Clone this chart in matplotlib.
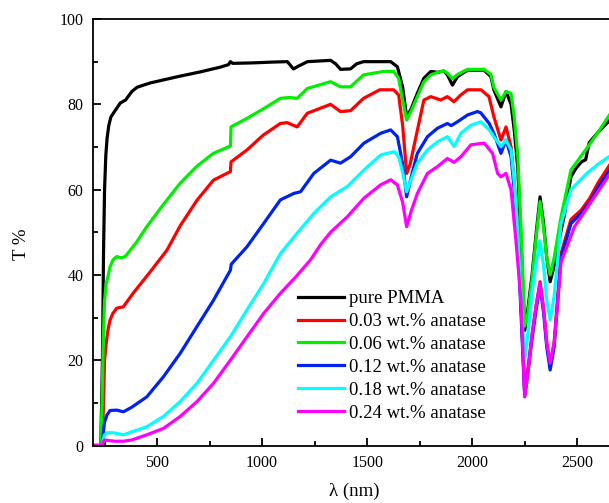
import matplotlib
matplotlib.use("Agg")
import matplotlib.pyplot as plt
from matplotlib.ticker import MultipleLocator

plt.rcParams['font.family'] = ['Liberation Serif', 'DejaVu Serif']
plt.rcParams['mathtext.fontset'] = 'stix'

# ---- data ----
labels = ["pure PMMA", "0.03 wt.% anatase", "0.06 wt.% anatase",
          "0.12 wt.% anatase", "0.18 wt.% anatase", "0.24 wt.% anatase"]
colors = ["#000000", "#ff0000", "#00ee00", "#0022ee", "#00ffff", "#ff00ff"]

pmma_x = [195, 232, 240, 245, 250, 256, 262, 270, 280, 300, 325, 350, 380, 405, 467, 600, 706, 800, 840, 849, 860, 950, 1050, 1120, 1149, 1175, 1216, 1326, 1350, 1373, 1421, 1450, 1483, 1612, 1644, 1669, 1688, 1710, 1739, 1770, 1803, 1836, 1865, 1882, 1906, 1930, 1978, 2056, 2089, 2103, 2137, 2161, 2185, 2200, 2217, 2235, 2250, 2265, 2285, 2305, 2323, 2340, 2355, 2371, 2390, 2407, 2437, 2470, 2494, 2520, 2540, 2557, 2600, 2660]
pmma_y = [0, 0, 20, 45, 60, 68, 72, 75, 77, 78.5, 80.3, 81, 83, 84, 85, 86.5, 87.6, 88.7, 89.3, 90, 89.6, 89.7, 89.9, 90, 88.3, 89, 90, 90.3, 89.5, 88.2, 88.3, 89.5, 90, 90, 88.8, 84, 77, 79, 82.6, 86.1, 87.7, 87.5, 87.8, 86.9, 84.5, 86.5, 88, 88, 86.5, 83.4, 79.4, 83, 80, 74, 65, 45, 27, 32, 40, 50, 58.3, 52, 44, 38.4, 42, 46.6, 53.6, 63, 65, 66.5, 67, 71, 73.5, 76.5]

a003_x = [195, 238, 244, 250, 258, 266, 276, 290, 308, 339, 386, 467, 547, 610, 690, 768, 840, 849, 852, 928, 1006, 1087, 1119, 1167, 1215, 1326, 1373, 1421, 1483, 1560, 1626, 1650, 1669, 1688, 1705, 1722, 1770, 1803, 1850, 1882, 1913, 1946, 1978, 2042, 2080, 2103, 2137, 2161, 2185, 2200, 2217, 2235, 2250, 2265, 2285, 2305, 2323, 2340, 2355, 2371, 2390, 2423, 2470, 2519, 2560, 2598, 2660]
a003_y = [0, 0, 8, 20, 24, 27, 29.4, 31, 32.2, 32.5, 35.7, 40.7, 45.8, 51.5, 57.5, 62.2, 64, 64.2, 66.5, 69.3, 72.8, 75.5, 75.7, 74.7, 77.9, 80, 78.3, 78.5, 81.4, 83.4, 83.4, 82.2, 75, 63.8, 66, 70, 81, 81.8, 81, 81.8, 80.6, 82.2, 83.4, 83.4, 81.8, 77.1, 71.6, 74.7, 70, 62, 50, 30, 12, 18, 26, 33, 38.4, 32, 24, 19, 24, 45, 53, 55.2, 58, 61.5, 66.2]

a006_x = [195, 232, 238, 244, 250, 258, 268, 276, 290, 308, 330, 348, 400, 451, 530, 610, 690, 768, 830, 849, 852, 928, 1008, 1087, 1130, 1167, 1215, 1326, 1373, 1421, 1483, 1579, 1626, 1650, 1669, 1688, 1710, 1739, 1770, 1803, 1836, 1865, 1882, 1906, 1930, 1978, 2056, 2089, 2103, 2137, 2161, 2185, 2200, 2217, 2235, 2250, 2265, 2285, 2305, 2323, 2340, 2355, 2371, 2390, 2423, 2470, 2550, 2600, 2660]
a006_y = [0, 0, 10, 25, 34, 38, 40, 41.9, 43.5, 44.3, 44, 44.3, 47.5, 51.3, 56.5, 61.5, 65.5, 68.5, 69.8, 70.2, 74.7, 76.7, 79, 81.4, 81.6, 81.4, 83.7, 85.3, 84.1, 84.1, 86.9, 87.7, 87.7, 86.1, 81, 76.3, 78.5, 81.8, 85.3, 86.9, 87.5, 87.8, 87.3, 86, 87, 88.2, 88.2, 87, 84, 81, 83, 82.5, 77, 68, 48, 28, 31, 39, 49, 57.2, 51, 44, 40, 44, 53.6, 64.6, 70, 73.5, 78]

a012_x = [195, 238, 244, 250, 262, 276, 308, 340, 380, 451, 530, 610, 690, 769, 849, 853, 928, 1008, 1087, 1151, 1183, 1246, 1326, 1373, 1421, 1485, 1564, 1612, 1644, 1669, 1688, 1710, 1739, 1787, 1835, 1882, 1900, 1930, 1978, 2025, 2041, 2081, 2103, 2137, 2161, 2185, 2200, 2217, 2235, 2250, 2265, 2285, 2305, 2323, 2340, 2355, 2371, 2390, 2423, 2470, 2519, 2560, 2598, 2660]
a012_y = [0, 0, 3, 5.5, 7.2, 8.2, 8.3, 7.9, 9, 11.4, 16.1, 21.6, 27.9, 34.1, 41.1, 42.5, 46.6, 52.1, 57.6, 59.1, 59.5, 63.8, 66.9, 66.2, 67.7, 70.9, 73.2, 74, 72.4, 66, 58.3, 63, 68.5, 72.4, 74.4, 75.5, 75, 75.9, 77.5, 78.3, 78, 75.5, 73.2, 68.5, 71.6, 67.7, 60, 48, 28, 11.5, 17, 25, 32, 37.5, 31, 23, 17.7, 23, 44, 52, 54.5, 57, 60.5, 65]

a018_x = [195, 238, 244, 250, 262, 292, 340, 380, 451, 530, 610, 690, 769, 849, 928, 1008, 1087, 1167, 1246, 1326, 1405, 1485, 1564, 1628, 1650, 1669, 1688, 1710, 1739, 1787, 1835, 1882, 1914, 1946, 1994, 2041, 2081, 2103, 2137, 2161, 2185, 2200, 2217, 2235, 2250, 2265, 2285, 2305, 2323, 2340, 2355, 2371, 2390, 2423, 2470, 2550, 2600, 2660]
a018_y = [0, 0, 1.5, 2.5, 3, 3, 2.5, 3.2, 4.4, 6.8, 10.3, 14.6, 20, 25.5, 31.8, 38, 45, 49.8, 54.4, 58.3, 60.7, 64.6, 68.1, 68.9, 67.7, 64, 59.5, 62.5, 66.2, 69.3, 71.2, 72.4, 70.1, 73.2, 75.1, 75.9, 74, 72.4, 70.1, 71.6, 69.3, 62, 50, 32, 20, 26, 36, 43, 48, 42, 34, 29.4, 35, 52, 60, 64, 66, 68]

a024_x = [195, 238, 244, 250, 262, 300, 340, 380, 451, 530, 610, 690, 769, 849, 928, 1008, 1087, 1160, 1230, 1280, 1326, 1405, 1485, 1564, 1612, 1644, 1669, 1688, 1710, 1739, 1787, 1835, 1882, 1914, 1946, 1994, 2057, 2097, 2121, 2137, 2161, 2185, 2208, 2232, 2250, 2265, 2285, 2305, 2323, 2340, 2355, 2371, 2390, 2423, 2487, 2582, 2660]
a024_y = [0, 0, 0.8, 1.3, 1.2, 1.0, 1.0, 1.3, 2.5, 4.0, 6.8, 10.3, 14.6, 20, 25.5, 31, 35.7, 39.5, 43.5, 47.2, 50.0, 53.6, 58, 61.1, 62.3, 61.1, 57, 51.3, 55, 59.1, 63.8, 65.4, 67.3, 66.4, 67.7, 70.5, 70.9, 68.5, 63.8, 63, 63.8, 59.9, 48.2, 34.1, 11.4, 17, 26, 33, 38, 32, 24, 19.3, 24, 43, 51.3, 58.3, 64]

xs = [pmma_x, a003_x, a006_x, a012_x, a018_x, a024_x]
ys = [pmma_y, a003_y, a006_y, a012_y, a018_y, a024_y]

# ---- figure ----
fig = plt.figure(figsize=(6.09, 5.03), dpi=100)
ax = fig.add_axes([93/609, 1 - 445.5/503, 1 - 93/609 + 0.002, (445.5 - 19)/503])

for x, y, c, lab in zip(xs, ys, colors, labels):
    ax.plot(x, y, color=c, lw=2.3, label=lab, solid_joinstyle='round')

ax.set_xlim(195, 2657)
ax.set_ylim(0, 100)
ax.xaxis.set_major_locator(MultipleLocator(500))
ax.xaxis.set_minor_locator(MultipleLocator(250))
ax.yaxis.set_major_locator(MultipleLocator(20))
ax.yaxis.set_minor_locator(MultipleLocator(10))
ax.tick_params(which='both', direction='in', width=1.3, labelsize=11.5, pad=7)
ax.tick_params(which='major', length=6)
ax.tick_params(which='minor', length=3.5)
ax.tick_params(axis='y', which='both', right=False)
ax.tick_params(axis='x', which='both', top=False)
for s in ['left', 'bottom', 'top']:
    ax.spines[s].set_linewidth(1.3)
ax.spines['right'].set_visible(False)

ax.set_xlabel("λ (nm)", fontsize=13.5)
ax.set_ylabel("T %", fontsize=13.5)
ax.xaxis.set_label_coords(0.506, -0.088)
ax.yaxis.set_label_coords(-0.122, 0.472)

leg = ax.legend(loc='upper left', bbox_to_anchor=((298 - 93) / 516, (445.5 - 290) / 426.5),
                frameon=False, fontsize=13.5, handlelength=2.45, handletextpad=0.25,
                labelspacing=0.31, borderpad=0, borderaxespad=0)
for h in leg.get_lines():
    h.set_linewidth(2.3)

fig.savefig("out.png", dpi=100)
